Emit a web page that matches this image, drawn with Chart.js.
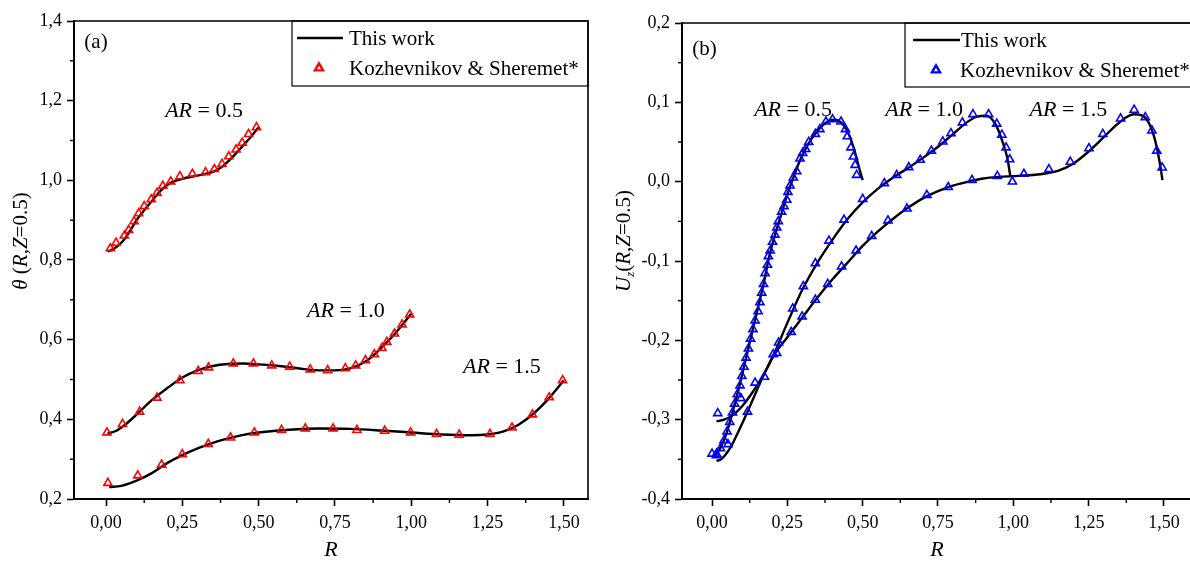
<!DOCTYPE html>
<html><head><meta charset="utf-8">
<script src="https://cdn.jsdelivr.net/npm/chart.js@4/dist/chart.umd.min.js"></script>
<style>
html,body{margin:0;padding:0;background:#fff;overflow:hidden;width:1190px;height:563px;position:relative;}
canvas{position:absolute;top:0;}
#ca{left:0px;}
#cb{left:595px;}
</style></head><body>
<canvas id="ca" width="600" height="563"></canvas>
<canvas id="cb" width="610" height="563"></canvas>
<script>
// ---------- shared tick arrays ----------
const xTicks = [0, 0.25, 0.5, 0.75, 1.0, 1.25, 1.5];
const xTickLabels = ['0,00', '0,25', '0,50', '0,75', '1,00', '1,25', '1,50'];
const xMinorTicks = [0.125, 0.375, 0.625, 0.875, 1.125, 1.375];

const yTicksA = [0.2, 0.4, 0.6, 0.8, 1.0, 1.2, 1.4];
const yTickLabelsA = ['0,2', '0,4', '0,6', '0,8', '1,0', '1,2', '1,4'];
const yMinorTicksA = [0.3, 0.5, 0.7, 0.9, 1.1, 1.3];

const yTicksB = [-0.4, -0.3, -0.2, -0.1, 0.0, 0.1, 0.2];
const yTickLabelsB = ['-0,4', '-0,3', '-0,2', '-0,1', '0,0', '0,1', '0,2'];
const yMinorTicksB = [-0.35, -0.25, -0.15, -0.05, 0.05, 0.15];

const legendLabels = ['This work', 'Kozhevnikov & Sheremet*'];
const curveLabels = ['AR = 0.5', 'AR = 1.0', 'AR = 1.5'];

// ---------- panel (a): theta(R, Z=0.5) ----------
const aLine05R = [0.005,0.02,0.04,0.06,0.08,0.10,0.12,0.15,0.18,0.21,0.25,0.30,0.35,0.38,0.41,0.44,0.47,0.50];
const aLine05V = [0.821,0.826,0.836,0.852,0.875,0.900,0.920,0.948,0.975,0.993,1.004,1.012,1.021,1.034,1.055,1.080,1.105,1.133];
const aMark05R = [0.014,0.033,0.060,0.074,0.092,0.107,0.125,0.148,0.167,0.186,0.212,0.242,0.283,0.326,0.355,0.380,0.402,0.426,0.446,0.467,0.493];
const aMark05V = [0.829,0.843,0.861,0.875,0.897,0.917,0.935,0.952,0.968,0.986,0.997,1.010,1.016,1.020,1.028,1.041,1.060,1.077,1.094,1.116,1.133];

const aLine10R = [0.005,0.03,0.06,0.10,0.15,0.20,0.25,0.30,0.35,0.40,0.45,0.50,0.55,0.60,0.65,0.70,0.75,0.80,0.85,0.90,0.95,1.00];
const aLine10V = [0.365,0.370,0.385,0.412,0.448,0.478,0.505,0.523,0.534,0.539,0.540,0.538,0.535,0.531,0.526,0.523,0.523,0.528,0.545,0.578,0.618,0.665];
const aMark10R = [0.003,0.054,0.110,0.167,0.242,0.302,0.336,0.417,0.483,0.543,0.602,0.669,0.726,0.784,0.818,0.850,0.879,0.904,0.920,0.945,0.970,0.995];
const aMark10V = [0.367,0.388,0.419,0.454,0.498,0.521,0.530,0.540,0.540,0.535,0.532,0.525,0.523,0.528,0.535,0.548,0.563,0.579,0.594,0.615,0.638,0.663];

const aLine15R = [0.01,0.05,0.10,0.15,0.20,0.25,0.30,0.35,0.40,0.45,0.50,0.60,0.70,0.80,0.90,1.00,1.10,1.20,1.25,1.30,1.35,1.40,1.45,1.50];
const aLine15V = [0.230,0.233,0.246,0.265,0.290,0.310,0.327,0.341,0.352,0.361,0.367,0.374,0.377,0.376,0.372,0.367,0.362,0.360,0.362,0.369,0.386,0.414,0.452,0.498];
const aMark15R = [0.006,0.104,0.182,0.250,0.335,0.408,0.486,0.575,0.653,0.744,0.822,0.913,0.998,1.083,1.157,1.258,1.330,1.397,1.452,1.496];
const aMark15V = [0.240,0.259,0.286,0.312,0.338,0.354,0.367,0.373,0.377,0.377,0.373,0.371,0.367,0.363,0.361,0.363,0.379,0.412,0.455,0.498];

// ---------- panel (b): Uz(R, Z=0.5) ----------
const bLine05R = [0.01,0.03,0.05,0.07,0.09,0.11,0.13,0.15,0.17,0.19,0.21,0.23,0.25,0.27,0.29,0.31,0.33,0.35,0.37,0.39,0.41,0.43,0.45,0.47,0.49,0.50];
const bLine05V = [-0.346,-0.334,-0.315,-0.288,-0.259,-0.227,-0.195,-0.163,-0.131,-0.094,-0.066,-0.041,-0.016,0.005,0.025,0.041,0.054,0.064,0.072,0.077,0.078,0.074,0.063,0.043,0.015,0.002];
const bMark05R = [0.000,0.015,0.028,0.040,0.050,0.059,0.068,0.075,0.084,0.093,0.099,0.106,0.113,0.121,0.128,0.136,0.143,0.153,0.159,0.165,0.171,0.176,0.184,0.187,0.193,0.201,0.209,0.215,0.220,0.231,0.239,0.248,0.252,0.259,0.270,0.281,0.292,0.301,0.311,0.321,0.343,0.358,0.378,0.400,0.428,0.443,0.449,0.461,0.469,0.475,0.480];
const bMark05V = [-0.343,-0.343,-0.336,-0.326,-0.315,-0.303,-0.291,-0.280,-0.268,-0.257,-0.245,-0.2335,-0.222,-0.2105,-0.198,-0.186,-0.175,-0.1635,-0.152,-0.140,-0.129,-0.1155,-0.105,-0.094,-0.087,-0.076,-0.067,-0.058,-0.050,-0.038,-0.031,-0.023,-0.013,-0.005,0.005,0.013,0.029,0.036,0.041,0.050,0.060,0.066,0.0756,0.0786,0.0756,0.066,0.057,0.043,0.0315,0.021,0.0084];

const bLine10R = [0.015,0.04,0.07,0.10,0.13,0.17,0.20,0.25,0.30,0.35,0.40,0.45,0.50,0.55,0.60,0.65,0.70,0.75,0.80,0.85,0.88,0.91,0.94,0.96,0.98,0.99];
const bLine10V = [-0.302,-0.300,-0.294,-0.283,-0.268,-0.244,-0.222,-0.178,-0.136,-0.102,-0.073,-0.047,-0.026,-0.009,0.005,0.017,0.030,0.044,0.060,0.076,0.082,0.083,0.073,0.055,0.030,0.007];
const bMark10R = [0.019,0.096,0.143,0.203,0.221,0.268,0.303,0.343,0.388,0.438,0.500,0.572,0.613,0.653,0.691,0.728,0.766,0.793,0.831,0.866,0.918,0.945,0.962,0.976,0.988,0.997];
const bMark10V = [-0.292,-0.273,-0.2535,-0.2176,-0.203,-0.160,-0.132,-0.103,-0.0745,-0.048,-0.022,-0.002,0.0084,0.018,0.0274,0.039,0.0505,0.061,0.0745,0.085,0.085,0.073,0.059,0.043,0.028,0.000];

const bLine15R = [0.015,0.03,0.06,0.09,0.12,0.15,0.17,0.20,0.25,0.30,0.35,0.40,0.45,0.50,0.55,0.60,0.65,0.70,0.75,0.80,0.85,0.90,0.95,1.00,1.05,1.10,1.15,1.20,1.25,1.30,1.35,1.40,1.43,1.45,1.47,1.485,1.495];
const bLine15V = [-0.352,-0.350,-0.336,-0.313,-0.288,-0.262,-0.245,-0.222,-0.196,-0.171,-0.146,-0.123,-0.102,-0.081,-0.063,-0.047,-0.033,-0.021,-0.012,-0.005,0.000,0.004,0.006,0.007,0.008,0.010,0.014,0.023,0.038,0.056,0.074,0.085,0.083,0.074,0.053,0.026,0.002];
const bMark15R = [0.015,0.053,0.118,0.174,0.215,0.263,0.299,0.343,0.384,0.430,0.478,0.530,0.584,0.647,0.713,0.784,0.863,0.947,1.035,1.118,1.189,1.251,1.297,1.356,1.401,1.438,1.460,1.476,1.494];
const bMark15V = [-0.345,-0.331,-0.290,-0.246,-0.216,-0.1895,-0.170,-0.149,-0.129,-0.107,-0.087,-0.0686,-0.049,-0.034,-0.017,-0.007,0.002,0.007,0.0097,0.0156,0.025,0.042,0.060,0.0795,0.0905,0.081,0.0644,0.039,0.0177];

// ---------- helpers ----------
const FAM = 'Liberation Serif';
const MARK_R = 4.7, MARK_W = 1.6;
const zip = (xs, ys) => xs.map((x, i) => ({x: x, y: ys[i]}));
function fontStr(italic, size){ return (italic ? 'italic ' : '') + size + 'px "' + FAM + '"'; }

function lineDs(label, R, V){
  return {type:'scatter', label: label, data: zip(R, V), showLine: true, borderColor:'#000', borderWidth: 2.4,
    pointRadius: 0, pointHoverRadius: 0, fill: false, cubicInterpolationMode: 'monotone', order: 2};
}
function markDs(label, R, V, color){
  return {type:'scatter', label: label, data: zip(R, V), showLine: false, pointStyle: 'triangle',
    pointRadius: MARK_R, pointBorderWidth: MARK_W, borderColor: color, backgroundColor: 'rgba(0,0,0,0)',
    pointBorderColor: color, pointBackgroundColor: 'rgba(0,0,0,0)', order: 1};
}

function richWidth(ctx, segs, size){
  let w = 0;
  segs.forEach(s => { ctx.font = fontStr(s.i, s.sz || size); w += ctx.measureText(s.t).width; });
  return w;
}
function drawRich(ctx, segs, size, x, y){ // centered horizontally, y = baseline
  let cx = x - richWidth(ctx, segs, size) / 2;
  ctx.textAlign = 'left';
  ctx.textBaseline = 'alphabetic';
  segs.forEach(s => {
    ctx.font = fontStr(s.i, s.sz || size);
    ctx.fillText(s.t, cx, y + (s.dy || 0));
    cx += ctx.measureText(s.t).width;
  });
}
function arSegs(txt){ // "AR = 0.5" -> italic AR
  return [{t: txt.slice(0, 2), i: true}, {t: txt.slice(2), i: false}];
}

function makeDeco(cfg){
  return {
    id: 'deco',
    afterDraw(chart){
      const ctx = chart.ctx, a = chart.chartArea, xs = chart.scales.x, ys = chart.scales.y;
      ctx.save();
      ctx.fillStyle = '#000';
      ctx.strokeStyle = '#000';
      // top & right frame
      ctx.lineWidth = 1.6;
      ctx.beginPath(); ctx.moveTo(a.left, a.top); ctx.lineTo(a.right, a.top); ctx.lineTo(a.right, a.bottom); ctx.stroke();
      // minor ticks
      ctx.lineWidth = 1.4;
      cfg.minorX.forEach(v => { const p = xs.getPixelForValue(v); ctx.beginPath(); ctx.moveTo(p, a.bottom); ctx.lineTo(p, a.bottom + 4); ctx.stroke(); });
      cfg.minorY.forEach(v => { const p = ys.getPixelForValue(v); ctx.beginPath(); ctx.moveTo(a.left, p); ctx.lineTo(a.left - 4, p); ctx.stroke(); });
      // curve annotations + panel tag
      cfg.notes.forEach(n => {
        drawRich(ctx, n.segs, n.size, xs.getPixelForValue(n.x), ys.getPixelForValue(n.y));
      });
      // rotated y title
      ctx.save();
      ctx.translate(cfg.yTitle.x, cfg.yTitle.y);
      ctx.rotate(-Math.PI / 2);
      drawRich(ctx, cfg.yTitle.segs, cfg.yTitle.size, 0, 7);
      ctx.restore();
      // legend box
      const L = cfg.legend;
      ctx.lineWidth = 1.2;
      ctx.strokeRect(L.x0, a.top, a.right - L.x0, L.y1 - a.top);
      ctx.lineWidth = 2.4;
      ctx.beginPath(); ctx.moveTo(L.lx0, L.row1); ctx.lineTo(L.lx1, L.row1); ctx.stroke();
      ctx.strokeStyle = L.color;
      ctx.fillStyle = 'rgba(0,0,0,0)';
      Chart.helpers.drawPoint(ctx, {pointStyle: 'triangle', radius: MARK_R, borderWidth: MARK_W, rotation: 0}, L.mx, L.row2);
      ctx.fillStyle = '#000';
      ctx.font = fontStr(false, L.size);
      ctx.textAlign = 'left';
      ctx.textBaseline = 'middle';
      ctx.fillText(legendLabels[0], L.tx1, L.row1 + 1);
      ctx.fillText(legendLabels[1], L.tx2, L.row2 + 1);
      ctx.restore();
    }
  };
}

function makeOptions(p){
  const tickFont = {family: '"' + FAM + '", serif', size: 18};
  return {
    responsive: false, animation: false, devicePixelRatio: 1,
    layout: {padding: {left: 0, right: p.padRight, top: p.padTop, bottom: 0}},
    plugins: {legend: {display: false}, tooltip: {enabled: false}},
    scales: {
      x: {
        type: 'linear', min: p.xmin, max: p.xmax,
        afterBuildTicks: s => { s.ticks = xTicks.map(v => ({value: v})); },
        afterFit: s => { s.height = 64; },
        ticks: {font: tickFont, color: '#000', padding: 6, maxRotation: 0, autoSkip: false,
          callback: v => xTickLabels[xTicks.findIndex(t => Math.abs(t - v) < 1e-9)]},
        grid: {drawOnChartArea: false, drawTicks: true, tickLength: 7, tickWidth: 1.6, tickColor: '#000'},
        border: {display: true, color: '#000', width: 2},
        title: {display: true, text: 'R', color: '#000', font: {family: '"' + FAM + '", serif', size: 22, style: 'italic'}, padding: {top: 0, bottom: 0}}
      },
      y: {
        type: 'linear', min: p.ymin, max: p.ymax,
        afterBuildTicks: s => { s.ticks = p.yTicks.map(v => ({value: v})); },
        afterFit: s => { s.width = p.yWidth; },
        ticks: {font: tickFont, color: '#000', padding: 5, autoSkip: false,
          callback: v => p.yLabels[p.yTicks.findIndex(t => Math.abs(t - v) < 1e-9)]},
        grid: {drawOnChartArea: false, drawTicks: true, tickLength: 7, tickWidth: 1.6, tickColor: '#000'},
        border: {display: true, color: '#000', width: 2}
      }
    }
  };
}

// ---------- chart (a) ----------
new Chart(document.getElementById('ca'), {
  type: 'scatter',
  data: {datasets: [
    markDs(legendLabels[1] + ' ' + curveLabels[0], aMark05R, aMark05V, '#ff0000'),
    markDs(legendLabels[1] + ' ' + curveLabels[1], aMark10R, aMark10V, '#ff0000'),
    markDs(legendLabels[1] + ' ' + curveLabels[2], aMark15R, aMark15V, '#ff0000'),
    lineDs(legendLabels[0] + ' ' + curveLabels[0], aLine05R, aLine05V),
    lineDs(legendLabels[0] + ' ' + curveLabels[1], aLine10R, aLine10V),
    lineDs(legendLabels[0] + ' ' + curveLabels[2], aLine15R, aLine15V)
  ]},
  options: makeOptions({xmin: -0.105, xmax: 1.579, ymin: 0.2, ymax: 1.4, yTicks: yTicksA, yLabels: yTickLabelsA, yWidth: 74, padTop: 21, padRight: 12}),
  plugins: [makeDeco({
    minorX: xMinorTicks, minorY: yMinorTicksA,
    notes: [
      {segs: arSegs(curveLabels[0]), size: 22, x: 0.321, y: 1.159},
      {segs: arSegs(curveLabels[1]), size: 22, x: 0.786, y: 0.657},
      {segs: arSegs(curveLabels[2]), size: 22, x: 1.297, y: 0.516},
      {segs: [{t: '(a)', i: false}], size: 21, x: -0.033, y: 1.332}
    ],
    yTitle: {x: 20, y: 241, size: 21, segs: [{t: 'θ', i: true}, {t: ' (', i: false}, {t: 'R', i: true}, {t: ',', i: false}, {t: 'Z', i: true}, {t: '=0.5)', i: false}]},
    legend: {x0: 292, y1: 86, lx0: 297, lx1: 343, row1: 38, row2: 68, mx: 319, tx1: 349, tx2: 349, size: 21, color: '#ff0000'}
  })]
});

// ---------- chart (b) ----------
new Chart(document.getElementById('cb'), {
  type: 'scatter',
  data: {datasets: [
    markDs(legendLabels[1] + ' ' + curveLabels[0], bMark05R, bMark05V, '#0000ff'),
    markDs(legendLabels[1] + ' ' + curveLabels[1], bMark10R, bMark10V, '#0000ff'),
    markDs(legendLabels[1] + ' ' + curveLabels[2], bMark15R, bMark15V, '#0000ff'),
    lineDs(legendLabels[0] + ' ' + curveLabels[0], bLine05R, bLine05V),
    lineDs(legendLabels[0] + ' ' + curveLabels[1], bLine10R, bLine10V),
    lineDs(legendLabels[0] + ' ' + curveLabels[2], bLine15R, bLine15V)
  ]},
  options: makeOptions({xmin: -0.0996, xmax: 1.593, ymin: -0.4, ymax: 0.2, yTicks: yTicksB, yLabels: yTickLabelsB, yWidth: 87, padTop: 23, padRight: 13}),
  plugins: [makeDeco({
    minorX: xMinorTicks, minorY: yMinorTicksB,
    notes: [
      {segs: arSegs(curveLabels[0]), size: 22, x: 0.269, y: 0.0834},
      {segs: arSegs(curveLabels[1]), size: 22, x: 0.704, y: 0.0834},
      {segs: arSegs(curveLabels[2]), size: 22, x: 1.183, y: 0.0834},
      {segs: [{t: '(b)', i: false}], size: 21, x: -0.025, y: 0.160}
    ],
    yTitle: {x: 28, y: 241, size: 21, segs: [{t: 'U', i: true}, {t: 'z', i: true, sz: 13, dy: 4}, {t: '(', i: false}, {t: 'R', i: true}, {t: ',', i: false}, {t: 'Z', i: true}, {t: '=0.5)', i: false}]},
    legend: {x0: 310, y1: 87, lx0: 318, lx1: 365, row1: 40, row2: 70, mx: 341, tx1: 366, tx2: 365, size: 21, color: '#0000ff'}
  })]
});
</script>
</body></html>
